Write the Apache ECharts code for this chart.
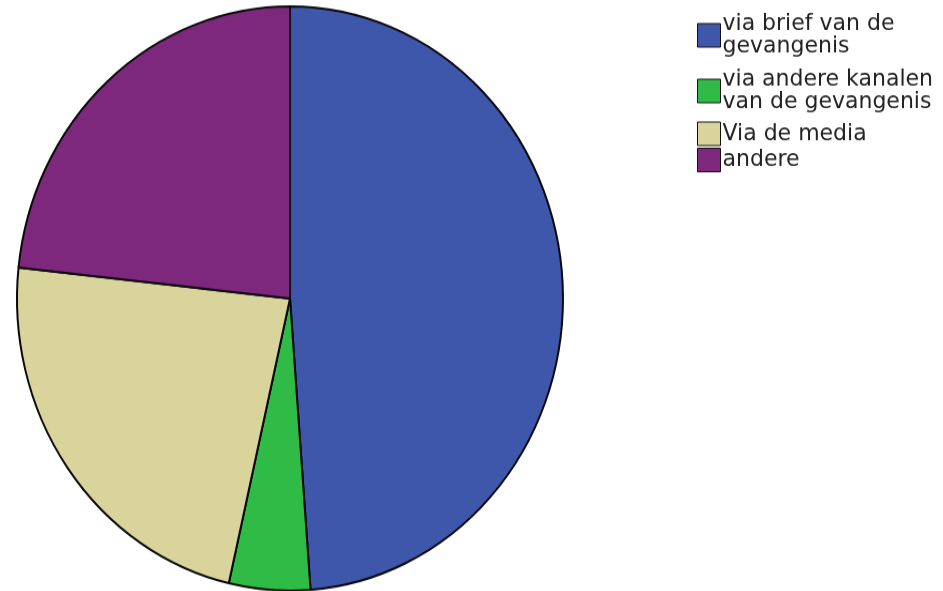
<!DOCTYPE html>
<html>
<head>
<meta charset="utf-8">
<script src="https://cdn.jsdelivr.net/npm/echarts@6/dist/echarts.min.js"></script>
<style>
  html, body { margin: 0; padding: 0; background: #fff; width: 943px; height: 591px; overflow: hidden; }
  #main { width: 943px; height: 553px; transform: scaleY(1.07); transform-origin: 0 0; }
</style>
</head>
<body>
<div id="main"></div>
<script>
const categories = ['via brief van de\ngevangenis', 'via andere kanalen\nvan de gevangenis', 'Via de media', 'andere'];
const values = [48.8, 4.8, 23.1, 23.3];
const colors = ['#3f57aa', '#2fbb45', '#d9d49c', '#7d287d'];

const chart = echarts.init(document.getElementById('main'));
const fontFam = '"DejaVu Sans", sans-serif';
const legendTops = [6.5, 58.5, 108.5, 133];
const legends = categories.map((c, i) => ({
  data: [c],
  left: 692,
  top: legendTops[i],
  orient: 'vertical',
  itemWidth: 23,
  itemHeight: 22,
  itemGap: 4,
  selectedMode: false,
  icon: 'rect',
  itemStyle: { borderColor: '#111', borderWidth: 1 },
  textStyle: { fontFamily: fontFam, fontSize: 22, lineHeight: 21, color: '#222', padding: [0, 0, 0, -3] }
}));

chart.setOption({
  animation: false,
  color: colors,
  legend: legends,
  series: [{
    type: 'pie',
    center: [290, 279],
    radius: 273,
    startAngle: 90,
    clockwise: true,
    label: { show: false },
    labelLine: { show: false },
    emphasis: { disabled: true },
    itemStyle: { borderColor: '#0a0a0a', borderWidth: 2 },
    data: categories.map((c, i) => ({ name: c, value: values[i] }))
  }]
});
</script>
</body>
</html>
